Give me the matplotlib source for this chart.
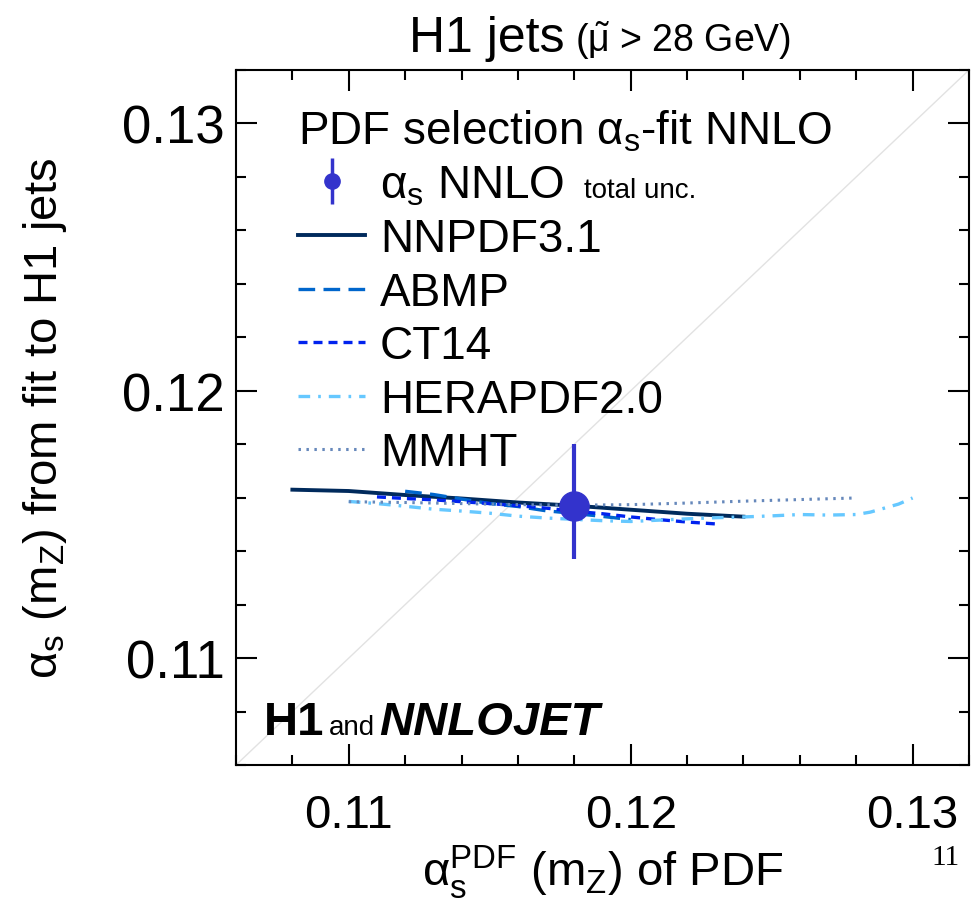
import matplotlib
matplotlib.use("Agg")
import matplotlib.pyplot as plt
import numpy as np
from matplotlib.offsetbox import TextArea, HPacker, AnchoredOffsetbox

plt.rcParams["font.family"] = ["Liberation Sans", "DejaVu Sans"]
plt.rcParams["mathtext.fontset"] = "custom"
plt.rcParams["mathtext.rm"] = "Liberation Sans"
plt.rcParams["mathtext.it"] = "Liberation Sans:italic"
plt.rcParams["mathtext.bf"] = "Liberation Sans:bold"

# alpha_s(mZ) of PDF vs alpha_s(mZ) from fit, per PDF set
nnpdf_x = [0.108, 0.110, 0.112, 0.114, 0.116, 0.118, 0.120, 0.122, 0.124]
nnpdf_y = [0.11630, 0.11625, 0.11610, 0.11597, 0.11582, 0.11570, 0.11555, 0.11540, 0.11529]

abmp_x = [0.112, 0.113, 0.114, 0.115, 0.116, 0.117, 0.118, 0.119, 0.120]
abmp_y = [0.11624, 0.11612, 0.11595, 0.11578, 0.11567, 0.11551, 0.11541, 0.11530, 0.11518]

ct14_x = [0.111, 0.112, 0.113, 0.114, 0.115, 0.116, 0.117, 0.118, 0.119,
          0.120, 0.121, 0.122, 0.123]
ct14_y = [0.11603, 0.11597, 0.11592, 0.11585, 0.11578, 0.11570, 0.11561, 0.11549,
          0.11540, 0.11528, 0.11518, 0.11509, 0.11502]

hera_x = [0.110, 0.111, 0.112, 0.113, 0.114, 0.115, 0.116, 0.117, 0.118, 0.119,
          0.120, 0.121, 0.122, 0.123, 0.124, 0.125, 0.126, 0.127, 0.128, 0.1285,
          0.129, 0.1295, 0.130]
hera_y = [0.11586, 0.11578, 0.11568, 0.11557, 0.11550, 0.11542, 0.11531, 0.11524,
          0.11519, 0.11514, 0.11511, 0.11516, 0.11521, 0.11525, 0.11528, 0.11532,
          0.11537, 0.11535, 0.11537, 0.11546, 0.11561, 0.11576, 0.11599]

mmht_x = [0.110, 0.112, 0.114, 0.116, 0.118, 0.120, 0.122, 0.124, 0.126, 0.128]
mmht_y = [0.11585, 0.11582, 0.11578, 0.11574, 0.11572, 0.11574, 0.11580, 0.11587,
          0.11593, 0.11599]

fit_x = 0.118
fit_y = 0.11570
fit_err_lo = 0.00200
fit_err_hi = 0.00232

lims = [0.106, 0.132]

fig = plt.figure(figsize=(9.79, 9.2), dpi=100)
ax = fig.add_axes([236 / 979, 1 - 766 / 920, 733 / 979, 695 / 920])

ax.plot(lims, lims, color="#e2e2e2", lw=1.0, zorder=1)

ax.plot(nnpdf_x, nnpdf_y, color="#002a5c", lw=2.8, label="NNPDF3.1", zorder=3)
ax.plot(abmp_x, abmp_y, color="#0066cc", lw=2.4, dashes=(5, 2.5), label="ABMP", zorder=3)
ax.plot(ct14_x, ct14_y, color="#0022ee", lw=2.4, dashes=(2.7, 1.8), label="CT14", zorder=3)
ax.plot(hera_x, hera_y, color="#66c8ff", lw=2.4, dashes=(3.5, 2.4, 0.8, 2.4),
        label="HERAPDF2.0", zorder=3)
ax.plot(mmht_x, mmht_y, color="#6688bb", lw=2.2, dashes=(0.8, 1.8), label="MMHT", zorder=3)

ax.errorbar([fit_x], [fit_y], yerr=[[fit_err_lo], [fit_err_hi]], fmt="o",
            color="#3333cc", ms=21, elinewidth=3, capsize=0, zorder=5)

# proxy handle for the legend (smaller marker)
proxy = ax.errorbar([np.nan], [np.nan], yerr=[[1], [1]], fmt="o", color="#3333cc",
                    ms=11, elinewidth=2.5, capsize=0)

ax.set_xlim(lims)
ax.set_ylim(lims)
ticks = [0.11, 0.12, 0.13]
ax.set_xticks(ticks)
ax.set_yticks(ticks)
ax.set_xticklabels(["0.11", "0.12", "0.13"])
ax.set_yticklabels(["0.11", "0.12", "0.13"])
minor = np.arange(0.106, 0.1321, 0.002)
ax.set_xticks(minor, minor=True)
ax.set_yticks(minor, minor=True)
ax.tick_params(which="both", direction="in", top=True, right=True, width=1.5)
ax.tick_params(which="major", length=15)
ax.tick_params(which="minor", length=7)
ax.tick_params(axis="x", which="major", labelsize=34, pad=20)
ax.tick_params(axis="y", which="major", labelsize=38, pad=8)
for s in ax.spines.values():
    s.set_linewidth(1.5)

ax.set_xlabel(r"$\mathregular{\alpha_s^{PDF}\ (m_Z)}$ of PDF", fontsize=34, labelpad=4)
ax.set_ylabel(r"$\mathregular{\alpha_s\ (m_Z)}$ from fit to H1 jets", fontsize=34, labelpad=38)

handles, labels = ax.get_legend_handles_labels()
order = [labels.index(n) for n in ["NNPDF3.1", "ABMP", "CT14", "HERAPDF2.0", "MMHT"]]
leg_handles = [proxy] + [handles[i] for i in order]
leg_labels = [r"$\mathregular{\alpha_s}$ NNLO"] + [labels[i] for i in order]
leg = ax.legend(leg_handles, leg_labels, loc="upper left",
                bbox_to_anchor=(0.085, 0.945), borderaxespad=0, frameon=False,
                fontsize=33, title=r"PDF selection $\mathregular{\alpha_s}$-fit NNLO",
                title_fontsize=33, alignment="left", handlelength=1.45,
                handletextpad=0.33, labelspacing=0.21, borderpad=0)

# H1 and NNLOJET label
logo = HPacker(children=[
    TextArea("H1", textprops=dict(fontsize=34, fontweight="bold")),
    TextArea("and", textprops=dict(fontsize=20)),
    TextArea("NNLOJET", textprops=dict(fontsize=34, fontweight="bold", fontstyle="italic")),
], align="baseline", pad=0, sep=3)
ax.add_artist(AnchoredOffsetbox(loc="lower left", child=logo, frameon=False,
                                bbox_to_anchor=(0.038, 0.03), bbox_transform=ax.transAxes,
                                borderpad=0, pad=0))

# title
title = HPacker(children=[
    TextArea("H1 jets", textprops=dict(fontsize=36)),
    TextArea(r"($\mathregular{\tilde{\mu}}$ > 28 GeV)", textprops=dict(fontsize=27)),
], align="baseline", pad=0, sep=8)
fig.add_artist(AnchoredOffsetbox(loc="lower center", child=title, frameon=False,
                                 bbox_to_anchor=(0.613, 1 - 62 / 920),
                                 bbox_transform=fig.transFigure, borderpad=0, pad=0))

fig.text(0.966, 0.067, "11", fontsize=21, family="Liberation Serif", ha="center", va="center")

# small "total unc." right after the first legend label
fig.canvas.draw()
bb0 = leg.get_texts()[0].get_window_extent()
fig.text(bb0.x1 / fig.dpi / fig.get_figwidth() + 20 / 979,
         (bb0.y0 + 10) / fig.dpi / fig.get_figheight(),
         "total unc.", fontsize=20, va="baseline", ha="left")

fig.savefig("out.png", dpi=100)
